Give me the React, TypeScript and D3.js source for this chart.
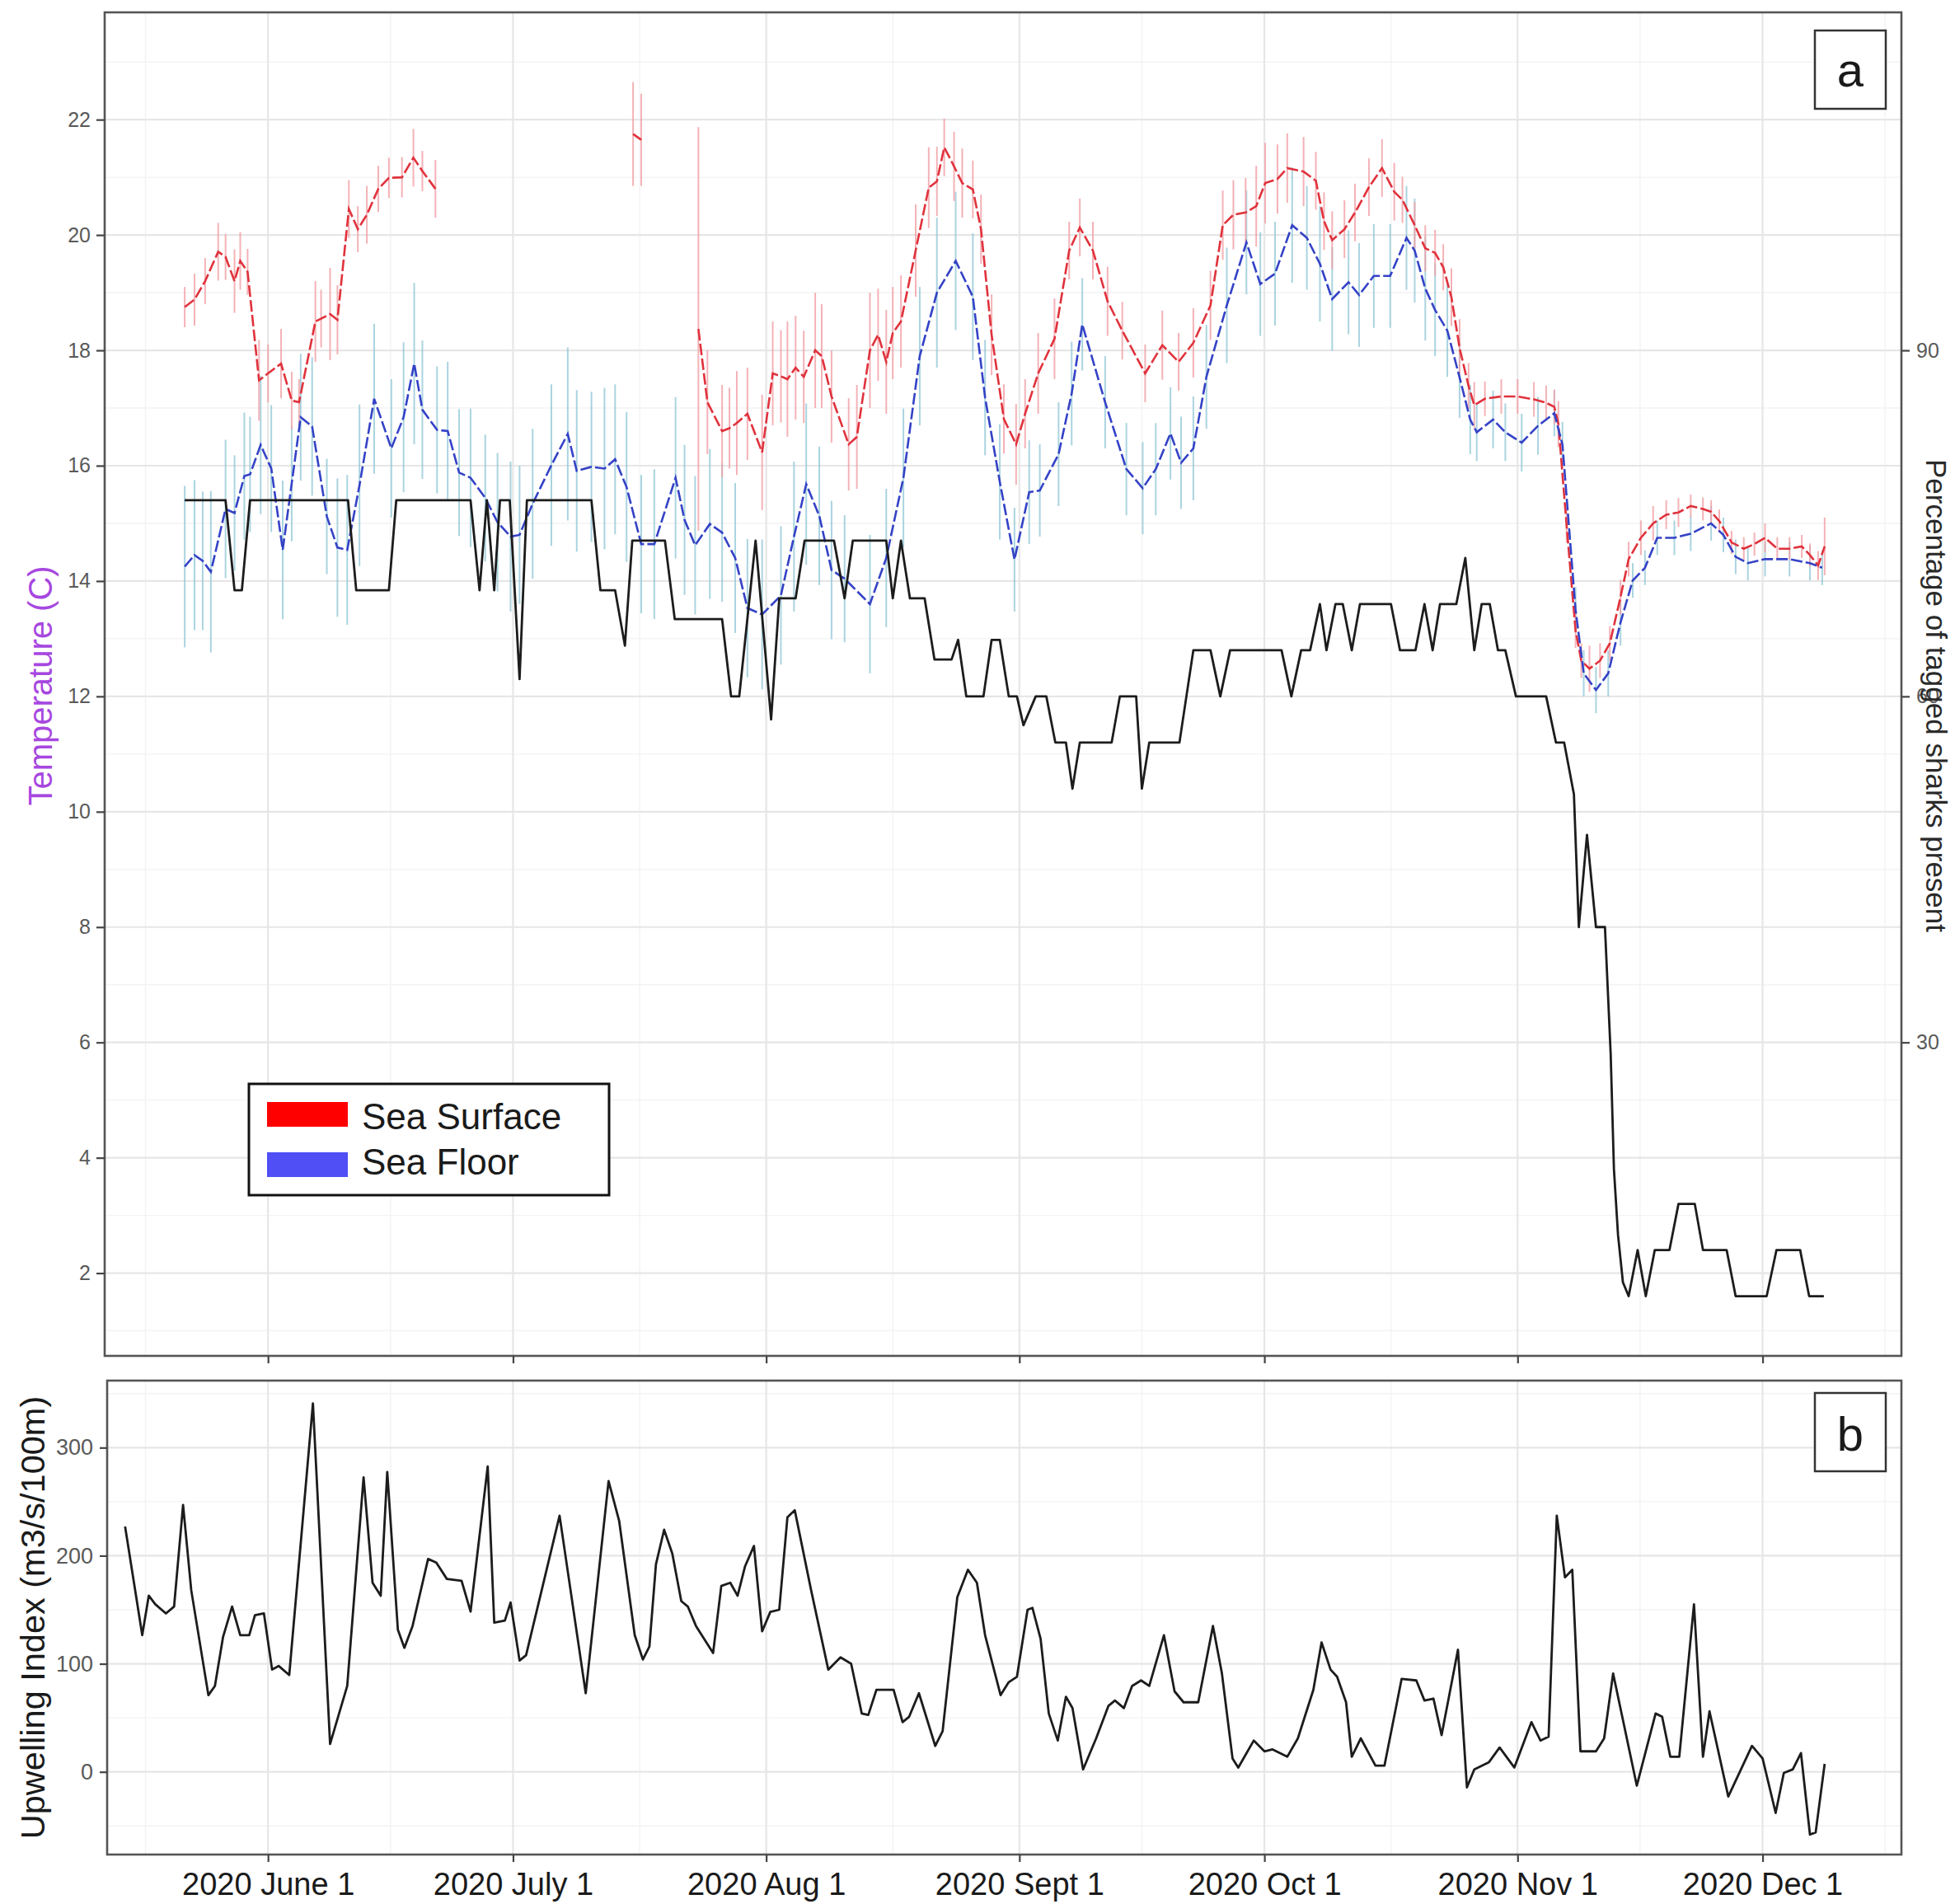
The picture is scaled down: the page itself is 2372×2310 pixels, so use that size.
import React, { useRef, useEffect } from 'react';
import * as d3 from 'd3';

// all x values are days counted from 2020-06-01
const START = Date.UTC(2020, 5, 1);

const monthTicks = ['2020-06-01', '2020-07-01', '2020-08-01', '2020-09-01', '2020-10-01', '2020-11-01', '2020-12-01'];
const monthLabels = ['2020 June 1', '2020 July 1', '2020 Aug 1', '2020 Sept 1', '2020 Oct 1', '2020 Nov 1', '2020 Dec 1'];
const tempTicks = [2, 4, 6, 8, 10, 12, 14, 16, 18, 20, 22];
const pctTicks = [30, 60, 90];
const upwellingTicks = [0, 100, 200, 300];

// [day, mean temperature (C), error]
const surfaceJune = [
  [-10.2, 18.75, 0.35], [-9.0, 18.88, 0.45], [-7.7, 19.2, 0.4], [-6.1, 19.71, 0.5], [-5.2, 19.62, 0.4],
  [-4.1, 19.2, 0.55], [-3.4, 19.55, 0.5], [-2.5, 19.36, 0.4], [-1.1, 17.48, 0.7], [0.0, 17.6, 0.5],
  [1.6, 17.77, 0.6], [2.9, 17.13, 0.5], [3.8, 17.1, 0.4], [5.8, 18.5, 0.7], [6.5, 18.55, 0.5],
  [7.6, 18.63, 0.8], [8.5, 18.53, 0.6], [9.9, 20.45, 0.5], [11.0, 20.1, 0.4], [12.1, 20.35, 0.5],
  [13.5, 20.8, 0.4], [14.8, 20.99, 0.35], [16.4, 21.0, 0.35], [17.8, 21.34, 0.5], [18.9, 21.11, 0.35],
  [20.5, 20.8, 0.5],
];
const surfaceJuly = [[44.7, 21.75, 0.9], [45.7, 21.65, 0.8]];
const surfaceLate = [
  [52.7, 18.37, 3.5], [53.8, 17.1, 0.9], [55.6, 16.6, 0.8], [56.5, 16.65, 0.7], [57.4, 16.74, 0.9],
  [58.7, 16.9, 0.8], [60.5, 16.23, 1.0], [61.8, 17.6, 0.9], [62.8, 17.55, 0.8], [63.6, 17.5, 1.0],
  [64.6, 17.7, 0.9], [65.6, 17.54, 0.8], [67.0, 18.0, 1.0], [67.8, 17.9, 0.9], [69.0, 17.2, 0.8],
  [71.1, 16.37, 0.8], [72.1, 16.5, 0.9], [73.7, 18.0, 1.0], [74.7, 18.27, 0.8], [75.7, 17.8, 0.9],
  [76.5, 18.3, 0.8], [77.5, 18.5, 0.8], [79.3, 19.73, 0.8], [80.9, 20.82, 0.7], [81.9, 20.93, 0.6],
  [82.8, 21.52, 0.5], [84.0, 21.19, 0.6], [85.0, 20.9, 0.6], [86.3, 20.79, 0.5], [87.3, 20.1, 0.6],
  [88.6, 18.27, 0.7], [90.1, 16.81, 0.6], [91.6, 16.37, 0.7], [92.7, 16.9, 0.6], [94.3, 17.6, 0.7],
  [96.3, 18.2, 0.7], [98.1, 19.73, 0.5], [99.4, 20.13, 0.5], [101.0, 19.73, 0.5], [102.8, 18.85, 0.6],
  [104.6, 18.34, 0.5], [107.4, 17.6, 0.5], [109.5, 18.09, 0.6], [111.5, 17.8, 0.5], [113.3, 18.13, 0.6],
  [115.4, 18.78, 0.6], [116.9, 20.17, 0.6], [118.2, 20.35, 0.6], [119.7, 20.39, 0.6], [121.0, 20.5, 0.7],
  [122.1, 20.9, 0.7], [123.6, 20.97, 0.6], [124.8, 21.16, 0.6], [126.8, 21.1, 0.6], [128.3, 20.94, 0.5],
  [129.3, 20.24, 0.5], [130.3, 19.91, 0.5], [131.8, 20.1, 0.5], [133.1, 20.39, 0.5], [134.8, 20.83, 0.5],
  [136.4, 21.16, 0.5], [137.9, 20.75, 0.5], [138.9, 20.61, 0.4], [140.4, 20.17, 0.4], [141.7, 19.77, 0.4],
  [142.9, 19.69, 0.4], [143.9, 19.44, 0.4], [144.9, 18.92, 0.5], [145.9, 18.04, 0.5], [147.0, 17.38, 0.4],
  [147.7, 17.05, 0.4], [149.0, 17.16, 0.3], [151.0, 17.2, 0.3], [153.0, 17.2, 0.3], [155.0, 17.15, 0.3],
  [156.5, 17.09, 0.3], [157.5, 17.02, 0.3], [158.0, 16.72, 0.4], [159.0, 14.97, 0.3], [160.1, 13.14, 0.3],
  [160.8, 12.62, 0.3], [161.8, 12.48, 0.4], [163.1, 12.62, 0.3], [164.3, 12.92, 0.3], [165.6, 13.72, 0.3],
  [166.6, 14.38, 0.3], [168.1, 14.75, 0.3], [169.6, 15.0, 0.3], [171.2, 15.15, 0.25], [172.7, 15.19, 0.25],
  [174.2, 15.3, 0.2], [175.7, 15.25, 0.2], [176.7, 15.2, 0.2], [177.7, 15.04, 0.2], [179.2, 14.67, 0.2],
  [180.7, 14.56, 0.2], [182.0, 14.64, 0.2], [183.3, 14.75, 0.25], [184.8, 14.56, 0.2], [186.3, 14.56, 0.2],
  [187.8, 14.6, 0.2], [188.8, 14.45, 0.2], [189.8, 14.27, 0.25], [190.6, 14.6, 0.5],
];

const floorTemp = [
  [-10.2, 14.25, 1.4], [-9.0, 14.45, 1.3], [-8.0, 14.35, 1.2], [-7.0, 14.16, 1.4], [-5.2, 15.25, 1.2],
  [-4.1, 15.18, 1.0], [-2.9, 15.82, 1.1], [-2.2, 15.85, 1.0], [-0.9, 16.36, 1.2], [0.4, 15.95, 1.1],
  [1.8, 14.54, 1.2], [2.9, 15.69, 1.0], [4.0, 16.84, 1.1], [5.4, 16.68, 1.2], [7.2, 15.12, 1.0],
  [8.5, 14.58, 1.2], [9.7, 14.54, 1.3], [11.2, 15.66, 1.4], [13.0, 17.16, 1.3], [15.1, 16.3, 1.2],
  [16.6, 16.84, 1.3], [17.9, 17.77, 1.4], [18.9, 16.97, 1.2], [20.7, 16.62, 1.1], [22.0, 16.6, 1.2],
  [23.4, 15.88, 1.1], [24.8, 15.79, 1.2], [26.6, 15.44, 1.1], [28.1, 15.02, 1.2], [29.7, 14.77, 1.3],
  [30.8, 14.8, 1.2], [32.4, 15.34, 1.3], [34.7, 16.01, 1.4], [36.7, 16.55, 1.5], [37.8, 15.91, 1.4],
  [39.6, 15.98, 1.3], [41.2, 15.95, 1.4], [42.5, 16.11, 1.3], [43.9, 15.63, 1.3], [45.7, 14.64, 1.2],
  [47.3, 14.64, 1.3], [49.9, 15.79, 1.4], [51.0, 15.06, 1.3], [52.3, 14.62, 1.2], [54.1, 14.99, 1.3],
  [55.6, 14.84, 1.2], [57.2, 14.4, 1.3], [58.7, 13.53, 1.2], [60.5, 13.42, 1.3], [62.8, 13.75, 1.2],
  [64.4, 14.77, 1.3], [65.9, 15.68, 1.4], [67.5, 15.13, 1.2], [69.0, 14.19, 1.2], [70.6, 14.04, 1.1],
  [73.7, 13.6, 1.2], [75.7, 14.4, 1.2], [77.8, 15.79, 1.2], [79.8, 17.9, 1.2], [81.9, 19.0, 1.3],
  [84.2, 19.55, 1.2], [86.3, 18.93, 1.1], [87.8, 17.18, 1.0], [89.6, 15.72, 1.0], [91.4, 14.37, 0.9],
  [93.2, 15.54, 0.9], [94.5, 15.57, 0.8], [96.8, 16.2, 0.9], [98.4, 17.25, 0.9], [99.7, 18.45, 0.8],
  [102.5, 17.1, 0.8], [105.1, 15.94, 0.8], [107.1, 15.61, 0.8], [108.7, 15.94, 0.8], [110.5, 16.56, 0.8],
  [111.8, 16.05, 0.8], [113.3, 16.3, 0.9], [114.9, 17.54, 0.9], [117.4, 18.78, 1.0], [119.8, 19.87, 0.9],
  [121.5, 19.15, 0.9], [123.3, 19.33, 0.9], [125.4, 20.17, 1.0], [127.2, 19.95, 0.9], [128.8, 19.5, 1.0],
  [130.3, 18.89, 0.9], [132.3, 19.18, 0.9], [133.6, 18.96, 0.9], [135.4, 19.29, 0.9], [137.4, 19.29, 0.9],
  [139.4, 19.95, 0.9], [140.4, 19.73, 0.9], [141.7, 19.07, 0.9], [142.9, 18.7, 0.8], [144.4, 18.34, 0.8],
  [145.9, 17.53, 0.7], [147.2, 16.8, 0.6], [148.0, 16.58, 0.5], [150.0, 16.8, 0.5], [151.5, 16.58, 0.5],
  [153.5, 16.4, 0.5], [155.5, 16.69, 0.5], [157.5, 16.91, 0.4], [158.5, 16.36, 0.4], [160.1, 13.5, 0.4],
  [161.1, 12.4, 0.4], [162.6, 12.11, 0.4], [164.1, 12.4, 0.4], [165.6, 13.28, 0.4], [167.1, 14.01, 0.3],
  [168.6, 14.23, 0.3], [170.1, 14.75, 0.3], [172.2, 14.75, 0.3], [174.2, 14.82, 0.3], [176.7, 15.0, 0.3],
  [178.2, 14.8, 0.3], [179.7, 14.42, 0.3], [181.2, 14.31, 0.3], [183.3, 14.38, 0.3], [186.3, 14.38, 0.3],
  [188.8, 14.31, 0.3], [190.3, 14.23, 0.3],
];

// [day, % of tagged sharks present]
const sharksPresent = [
  [-10.2, 77], [-5.2, 77], [-4.1, 69.2], [-3.2, 69.2], [-2.2, 77], [9.8, 77], [10.8, 69.2], [14.8, 69.2],
  [15.7, 77], [24.8, 77], [25.9, 69.2], [26.8, 77], [27.7, 69.2], [28.4, 77], [29.6, 77], [30.8, 61.5],
  [31.7, 77], [39.6, 77], [40.7, 69.2], [42.5, 69.2], [43.7, 64.4], [44.6, 73.5], [48.6, 73.5], [49.8, 66.7],
  [55.6, 66.7], [56.7, 60], [57.7, 60], [59.7, 73.5], [61.6, 58], [62.6, 68.5], [64.6, 68.5], [65.7, 73.5],
  [69.3, 73.5], [70.6, 68.5], [71.6, 73.5], [75.7, 73.5], [76.5, 68.5], [77.5, 73.5], [78.6, 68.5], [80.4, 68.5],
  [81.6, 63.2], [83.7, 63.2], [84.5, 64.9], [85.5, 60], [87.6, 60], [88.6, 64.9], [89.6, 64.9], [90.7, 60],
  [91.7, 60], [92.5, 57.5], [94.0, 60], [95.3, 60], [96.4, 56], [97.7, 56], [98.5, 52], [99.4, 56],
  [103.3, 56], [104.3, 60], [106.3, 60], [107.0, 52], [107.9, 56], [111.6, 56], [113.3, 64], [115.4, 64],
  [116.6, 60], [117.8, 64], [124.1, 64], [125.3, 60], [126.5, 64], [127.6, 64], [128.8, 68], [129.6, 64],
  [130.7, 68], [131.6, 68], [132.7, 64], [133.7, 68], [137.5, 68], [138.6, 64], [140.5, 64], [141.6, 68],
  [142.6, 64], [143.5, 68], [145.5, 68], [146.6, 72], [147.7, 64], [148.6, 68], [149.6, 68], [150.6, 64],
  [151.5, 64], [152.8, 60], [156.5, 60], [157.7, 56], [158.7, 56], [159.9, 51.5], [160.5, 40], [161.5, 48],
  [162.6, 40], [163.7, 40], [164.4, 29], [164.8, 19], [165.3, 13.3], [165.9, 9.2], [166.6, 8], [167.7, 12],
  [168.7, 8], [169.8, 12], [171.6, 12], [172.7, 16], [174.7, 16], [175.7, 12], [178.6, 12], [179.7, 8],
  [183.5, 8], [184.7, 12], [187.6, 12], [188.7, 8], [190.5, 8],
];

// [day, upwelling index m3/s/100m]
const upwelling = [
  [-17.5, 227], [-15.4, 126.5], [-14.6, 163], [-13.8, 155], [-12.5, 146.6], [-11.5, 153], [-10.4, 247],
  [-9.4, 168], [-7.3, 71], [-6.5, 79.5], [-5.5, 125], [-4.4, 153], [-3.4, 126.5], [-2.3, 126.5], [-1.6, 145],
  [-0.5, 146.6], [0.5, 94.6], [1.3, 98], [2.6, 89.6], [5.5, 341], [7.6, 25.8], [9.7, 79.5], [11.7, 272.5],
  [12.8, 175], [13.8, 163], [14.6, 277.5], [15.9, 131.5], [16.7, 114.8], [17.7, 135], [19.6, 197],
  [20.6, 193.6], [21.9, 178.5], [23.7, 176.8], [24.8, 148.3], [26.9, 282.6], [27.7, 138], [29.0, 140],
  [29.7, 156.7], [30.8, 103], [31.6, 108], [35.7, 237], [38.9, 72.8], [41.7, 269], [43.0, 232], [44.9, 126.5],
  [45.9, 104], [46.7, 116], [47.5, 192], [48.5, 224], [49.5, 202], [50.6, 158], [51.4, 153], [52.4, 135],
  [54.5, 110], [55.5, 172], [56.6, 175], [57.5, 163], [58.4, 190], [59.5, 209], [60.5, 130], [61.5, 148],
  [62.6, 150], [63.6, 235.6], [64.5, 242], [66.5, 168], [68.6, 94.6], [70.1, 106], [71.4, 100], [72.7, 54],
  [73.5, 52.7], [74.5, 76], [76.6, 76], [77.7, 46], [78.5, 51], [79.7, 72.8], [81.7, 24], [82.6, 37.6],
  [84.4, 161.7], [85.7, 187], [86.8, 175], [87.8, 126.5], [89.7, 71], [90.7, 83], [91.7, 88], [93.0, 150],
  [93.6, 151.7], [94.6, 123], [95.6, 54], [96.7, 29], [97.7, 69.5], [98.5, 59], [99.8, 2.3], [101.4, 31],
  [102.9, 61], [103.7, 66], [104.8, 59], [105.8, 79.5], [106.9, 84.6], [107.9, 79.5], [109.7, 126.5],
  [111.0, 74.5], [112.1, 64.4], [113.9, 64.4], [115.7, 135], [116.8, 91], [118.1, 12.4], [118.8, 4],
  [120.7, 29], [122.0, 19], [123.0, 20.8], [124.8, 14], [126.1, 31], [128.0, 76], [129.0, 119.8],
  [130.1, 94.6], [130.9, 88], [132.0, 64.4], [132.7, 14], [133.8, 31], [135.6, 5.7], [136.7, 5.7],
  [138.8, 86], [140.6, 84.6], [141.6, 66], [142.7, 67.8], [143.7, 34], [145.7, 113], [146.8, -14.4],
  [147.7, 2.3], [149.5, 9], [150.8, 22.5], [152.6, 4], [154.7, 46], [155.8, 29], [156.8, 32.6], [157.8, 237],
  [158.8, 180], [159.7, 187], [160.7, 19], [162.6, 19], [163.6, 31], [164.7, 91], [167.6, -12.8], [169.9, 54],
  [170.7, 51], [171.7, 14], [172.8, 14], [174.6, 155], [175.7, 14], [176.5, 56], [178.8, -22.8], [181.7, 24],
  [183.0, 12.4], [184.6, -38], [185.6, -1], [186.7, 2.3], [187.7, 17.4], [188.8, -58], [189.5, -56], [190.6, 7.4],
];

const legendItems = [
  { label: 'Sea Surface', color: '#ff0000' },
  { label: 'Sea Floor', color: '#4f4ff5' },
];

const FONT = 'Liberation Sans, Arial, Helvetica, sans-serif';

const App = () => {
  const svgRef = useRef<SVGSVGElement>(null);

  useEffect(() => {
    const svg = d3.select(svgRef.current);
    svg.selectAll('*').remove();

    const pa = { left: 127, right: 2307, top: 15, bottom: 1645 };
    const pb = { left: 130, right: 2307, top: 1675, bottom: 2250 };

    const toDate = (d: number) => new Date(START + d * 864e5);
    const x = d3.scaleUtc().domain([toDate(-20), toDate(200)]).range([pa.left, pa.right]);
    const yT = d3.scaleLinear().domain([0.565, 23.86]).range([pa.bottom, pa.top]);
    const yP = d3.scaleLinear().domain([0.565 * 5, 23.86 * 5]).range([pa.bottom, pa.top]);
    const yU = d3.scaleLinear().domain([-76.5, 362]).range([pb.bottom, pb.top]);

    const majors = monthTicks.map(s => new Date(s + 'T00:00:00Z'));
    const minors: Date[] = [];
    minors.push(new Date(+majors[0] - (+majors[1] - +majors[0]) / 2));
    for (let i = 0; i < majors.length - 1; i++) minors.push(new Date((+majors[i] + +majors[i + 1]) / 2));
    const n = majors.length;
    minors.push(new Date(+majors[n - 1] + (+majors[n - 1] - +majors[n - 2]) / 2));

    svg.append('rect').attr('width', 2372).attr('height', 2310).attr('fill', '#fff');

    // grid
    const grid = (p, y, majorsY, minorsY) => {
      const g = svg.append('g');
      g.selectAll('.hmin').data(minorsY).enter().append('line')
        .attr('x1', p.left).attr('x2', p.right).attr('y1', d => y(d)).attr('y2', d => y(d))
        .attr('stroke', '#f3f3f3').attr('stroke-width', 1.4);
      g.selectAll('.vmin').data(minors).enter().append('line')
        .attr('x1', d => x(d)).attr('x2', d => x(d)).attr('y1', p.top).attr('y2', p.bottom)
        .attr('stroke', '#f3f3f3').attr('stroke-width', 1.4);
      g.selectAll('.hmaj').data(majorsY).enter().append('line')
        .attr('x1', p.left).attr('x2', p.right).attr('y1', d => y(d)).attr('y2', d => y(d))
        .attr('stroke', '#e6e6e6').attr('stroke-width', 2.2);
      g.selectAll('.vmaj').data(majors).enter().append('line')
        .attr('x1', d => x(d)).attr('x2', d => x(d)).attr('y1', p.top).attr('y2', p.bottom)
        .attr('stroke', '#e6e6e6').attr('stroke-width', 2.2);
    };
    grid(pa, yT, tempTicks, d3.range(1, 24, 2));
    grid(pb, yU, upwellingTicks, [-50, 50, 150, 250, 350]);

    // panel a: error bars
    const bars = (data, color, opacity) => {
      svg.append('g').selectAll('line').data(data).enter().append('line')
        .attr('x1', d => x(toDate(d[0]))).attr('x2', d => x(toDate(d[0])))
        .attr('y1', d => yT(d[1] - d[2])).attr('y2', d => yT(d[1] + d[2]))
        .attr('stroke', color).attr('stroke-width', 2).attr('opacity', opacity);
    };
    bars(floorTemp, '#8ec6d6', 0.75);
    [surfaceJune, surfaceJuly, surfaceLate].forEach(s => bars(s, '#f2a0a6', 0.8));

    const tLine = d3.line<number[]>().x(d => x(toDate(d[0]))).y(d => yT(d[1]));
    [surfaceJune, surfaceJuly, surfaceLate].forEach(s => {
      svg.append('path').datum(s).attr('d', tLine)
        .attr('fill', 'none').attr('stroke', '#e0323c').attr('stroke-width', 2.6)
        .attr('stroke-dasharray', '14 4');
    });
    svg.append('path').datum(floorTemp).attr('d', tLine)
      .attr('fill', 'none').attr('stroke', '#3442c6').attr('stroke-width', 2.6)
      .attr('stroke-dasharray', '14 4');

    const pLine = d3.line<number[]>().x(d => x(toDate(d[0]))).y(d => yP(d[1]));
    svg.append('path').datum(sharksPresent).attr('d', pLine)
      .attr('fill', 'none').attr('stroke', '#1c1c1c').attr('stroke-width', 2.8)
      .attr('stroke-linejoin', 'round');

    // panel b line
    const uLine = d3.line<number[]>().x(d => x(toDate(d[0]))).y(d => yU(d[1]));
    svg.append('path').datum(upwelling).attr('d', uLine)
      .attr('fill', 'none').attr('stroke', '#1c1c1c').attr('stroke-width', 2.8)
      .attr('stroke-linejoin', 'round');

    // borders
    [pa, pb].forEach(p => {
      svg.append('rect').attr('x', p.left).attr('y', p.top)
        .attr('width', p.right - p.left).attr('height', p.bottom - p.top)
        .attr('fill', 'none').attr('stroke', '#555').attr('stroke-width', 2.6);
    });

    // axes
    const styleAxis = (g, size, color) => {
      g.select('.domain').remove();
      g.attr('font-family', FONT).attr('font-size', size);
      g.selectAll('line').attr('stroke', '#444').attr('stroke-width', 2.2);
      g.selectAll('text').attr('fill', color);
    };
    styleAxis(svg.append('g').attr('transform', `translate(${pa.left},0)`)
      .call(d3.axisLeft(yT).tickValues(tempTicks).tickSize(10).tickPadding(7)), 25, '#5a5a5a');
    styleAxis(svg.append('g').attr('transform', `translate(${pa.right},0)`)
      .call(d3.axisRight(yP).tickValues(pctTicks).tickSize(10).tickPadding(8)), 25, '#5a5a5a');
    styleAxis(svg.append('g').attr('transform', `translate(0,${pa.bottom})`)
      .call(d3.axisBottom(x).tickValues(majors).tickSize(9).tickFormat(() => '')), 25, '#5a5a5a');
    styleAxis(svg.append('g').attr('transform', `translate(${pb.left},0)`)
      .call(d3.axisLeft(yU).tickValues(upwellingTicks).tickSize(9).tickPadding(8)), 27, '#5a5a5a');
    styleAxis(svg.append('g').attr('transform', `translate(0,${pb.bottom})`)
      .call(d3.axisBottom(x).tickValues(majors).tickSize(9).tickPadding(13)
        .tickFormat((d, i) => monthLabels[i])), 38, '#1a1a1a');

    // axis titles
    svg.append('text').attr('transform', `translate(63,${(pa.top + pa.bottom) / 2 + 2}) rotate(-90)`)
      .attr('text-anchor', 'middle').attr('font-family', FONT).attr('font-size', 40)
      .attr('fill', '#a747e0').text('Temperature (C)');
    svg.append('text').attr('transform', `translate(54,${(pb.top + pb.bottom) / 2}) rotate(-90)`)
      .attr('text-anchor', 'middle').attr('font-family', FONT).attr('font-size', 41.5)
      .attr('fill', '#1a1a1a').text('Upwelling Index (m3/s/100m)');
    svg.append('text').attr('transform', `translate(2337,${(pa.top + pa.bottom) / 2 + 14}) rotate(90)`)
      .attr('text-anchor', 'middle').attr('font-family', FONT).attr('font-size', 35)
      .attr('fill', '#2a2a2a').text('Percentage of tagged sharks present');

    // panel tags
    [{ t: 'a', y: 37 }, { t: 'b', y: 1690 }].forEach(tag => {
      svg.append('rect').attr('x', 2202).attr('y', tag.y).attr('width', 86).attr('height', 95)
        .attr('fill', '#fff').attr('stroke', '#333').attr('stroke-width', 2.5);
      svg.append('text').attr('x', 2245).attr('y', tag.y + (tag.t === 'a' ? 68 : 70))
        .attr('text-anchor', 'middle').attr('font-family', FONT).attr('font-size', 58)
        .attr('fill', '#1a1a1a').text(tag.t);
    });

    // legend
    const lg = svg.append('g');
    lg.append('rect').attr('x', 302).attr('y', 1315).attr('width', 437).attr('height', 135)
      .attr('fill', '#fff').attr('stroke', '#111').attr('stroke-width', 3);
    legendItems.forEach((item, i) => {
      lg.append('rect').attr('x', 324).attr('y', 1337 + i * 61).attr('width', 98).attr('height', 30)
        .attr('fill', item.color);
      lg.append('text').attr('x', 439).attr('y', 1370 + i * 55)
        .attr('font-family', FONT).attr('font-size', 44).attr('fill', '#1a1a1a').text(item.label);
    });
  }, []);

  return (
    <svg ref={svgRef} width={2372} height={2310}
      style={{ position: 'absolute', left: 0, top: 0, display: 'block' }} />
  );
};

export default App;
